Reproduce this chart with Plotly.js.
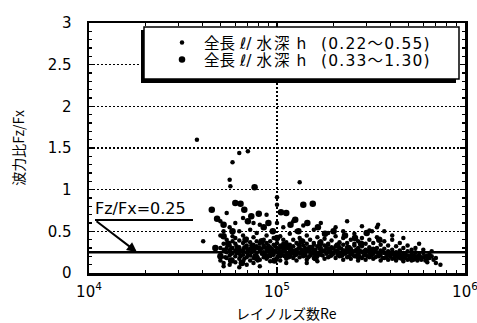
<!DOCTYPE html>
<html>
<head>
<meta charset="utf-8">
<script src="https://cdn.plot.ly/plotly-3.0.1.min.js"></script>
<style>html,body{margin:0;padding:0;background:#fff;}#chart{width:477px;height:323px;}</style>
</head>
<body>
<div id="chart"></div>
<script>
// Series 1: 全長ℓ/水深h (0.22～0.55) — small dots
const reSmall = [
 50000,50000,50000,50000,50000,
 52000,52000,52000,52000,52000,
 54000,54000,54000,54000,54000,
 56000,56000,56000,56000,56000,
 58000,58000,58000,58000,58000,
 60000,60000,60000,60000,60000,60000,
 63000,63000,63000,63000,63000,63000,
 66000,66000,66000,66000,66000,66000,
 69000,69000,69000,69000,69000,69000,
 72000,72000,72000,72000,72000,
 75000,75000,75000,75000,75000,75000,
 78000,78000,78000,78000,78000,
 81000,81000,81000,81000,81000,81000,
 85000,85000,85000,85000,85000,
 88000,88000,88000,88000,88000,88000,
 92000,92000,92000,92000,92000,
 96000,96000,96000,96000,96000,
 100000,100000,100000,100000,100000,100000,
 104000,104000,104000,104000,104000,
 108000,108000,108000,108000,108000,
 112000,112000,112000,112000,112000,
 117000,117000,117000,117000,117000,
 122000,122000,122000,122000,122000,
 127000,127000,127000,127000,127000,
 132000,132000,132000,132000,132000,
 138000,138000,138000,138000,138000,
 144000,144000,144000,144000,144000,
 150000,150000,150000,150000,150000,
 157000,157000,157000,157000,157000,
 164000,164000,164000,164000,164000,
 171000,171000,171000,171000,171000,
 179000,179000,179000,179000,
 187000,187000,187000,187000,187000,
 195000,195000,195000,195000,
 205000,205000,205000,205000,205000,
 215000,215000,215000,215000,
 225000,225000,225000,225000,225000,
 236000,236000,236000,236000,236000,
 247000,247000,247000,247000,
 258000,258000,258000,258000,258000,
 270000,270000,270000,270000,
 283000,283000,283000,283000,283000,
 296000,296000,296000,296000,
 310000,310000,310000,310000,310000,
 325000,325000,325000,325000,
 340000,340000,340000,340000,340000,
 356000,356000,356000,356000,
 372000,372000,372000,372000,372000,
 390000,390000,390000,390000,
 410000,410000,410000,410000,410000,
 430000,430000,430000,430000,
 450000,450000,450000,450000,
 470000,470000,470000,470000,470000,
 495000,495000,495000,495000,
 520000,520000,520000,520000,
 545000,545000,545000,545000,
 570000,570000,570000,
 600000,600000,600000,
 630000,630000,630000,
 665000,665000,
 700000,700000,
 740000,
 37500,63000,70000,58000,56000,56500,100000,132000,40500,
 53000,53000,57000,57000,61000,61000,64000,64000,67000,67000,
 70000,70000,73000,73000,76000,76000,79000,79000,83000,83000,
 86000,86000,90000,90000,94000,94000,98000,98000,102000,102000,
 106000,106000,110000,110000,114000,114000,119000,119000,124000,124000,
 130000,130000,135000,135000,141000,141000,147000,147000,154000,154000,
 160000,160000,168000,168000,175000,175000,183000,183000,191000,191000,
 200000,200000,210000,210000,220000,220000,230000,230000,241000,241000,
 252000,252000,264000,264000,276000,276000,290000,290000,303000,303000,
 318000,318000,333000,333000,348000,348000,364000,364000,381000,381000,
 400000,400000,420000,420000,440000,440000,460000,460000,482000,482000,
 507000,507000,532000,532000,558000,558000,585000,585000,615000,615000,
 648000,648000,680000,320000,345000
];
const fzSmall = [
 0.45,0.30,0.22,0.15,0.62,
 0.35,0.28,0.12,0.50,0.08,
 0.40,0.25,0.18,0.30,0.72,
 0.33,0.21,0.10,0.27,0.55,
 0.38,0.30,0.16,0.24,0.44,
 0.42,0.27,0.20,0.35,0.13,0.60,
 0.31,0.23,0.17,0.39,0.50,0.07,
 0.36,0.28,0.22,0.14,0.45,0.66,
 0.30,0.25,0.19,0.41,0.33,0.10,
 0.37,0.29,0.21,0.15,0.52,
 0.34,0.26,0.18,0.43,0.60,0.12,
 0.32,0.24,0.20,0.38,0.48,
 0.35,0.27,0.16,0.30,0.58,0.08,
 0.33,0.25,0.19,0.40,0.22,
 0.36,0.28,0.17,0.45,0.30,0.70,
 0.31,0.24,0.20,0.38,0.14,
 0.34,0.27,0.22,0.42,0.50,
 0.30,0.25,0.18,0.36,0.60,0.82,
 0.33,0.26,0.20,0.44,0.15,
 0.35,0.28,0.21,0.40,0.55,
 0.31,0.24,0.17,0.37,0.12,
 0.34,0.27,0.20,0.47,0.30,
 0.32,0.25,0.18,0.40,0.62,
 0.36,0.28,0.22,0.15,0.50,
 0.30,0.24,0.19,0.42,0.33,
 0.33,0.26,0.20,0.38,0.57,
 0.35,0.27,0.16,0.45,0.12,
 0.31,0.25,0.21,0.40,0.30,
 0.34,0.28,0.18,0.36,0.52,
 0.32,0.24,0.20,0.43,0.14,
 0.30,0.26,0.22,0.38,0.60,
 0.33,0.27,0.17,0.41,
 0.35,0.25,0.19,0.34,0.48,
 0.31,0.24,0.21,0.39,
 0.32,0.26,0.18,0.44,0.55,
 0.30,0.24,0.20,0.37,
 0.34,0.27,0.16,0.42,0.50,
 0.31,0.25,0.19,0.36,0.62,
 0.29,0.23,0.17,0.40,
 0.33,0.26,0.20,0.47,0.35,
 0.30,0.24,0.15,0.38,
 0.32,0.25,0.18,0.42,0.56,
 0.28,0.22,0.16,0.35,
 0.31,0.24,0.19,0.40,0.51,
 0.29,0.23,0.17,0.36,
 0.30,0.25,0.20,0.43,0.55,
 0.27,0.22,0.15,0.34,
 0.29,0.24,0.18,0.38,0.50,
 0.26,0.21,0.16,0.33,
 0.28,0.23,0.17,0.40,0.45,
 0.25,0.20,0.15,0.32,
 0.27,0.22,0.18,0.36,
 0.24,0.19,0.14,0.30,0.42,
 0.26,0.21,0.16,0.33,
 0.23,0.19,0.15,0.28,
 0.25,0.20,0.17,0.30,
 0.22,0.18,0.35,
 0.24,0.19,0.28,
 0.21,0.17,0.13,
 0.20,0.26,
 0.12,0.18,
 0.10,
 1.60,1.44,1.46,1.33,1.12,1.04,0.91,1.09,0.38,
 0.26,0.19,0.29,0.23,0.32,0.24,0.26,0.20,0.31,0.17,
 0.27,0.22,0.33,0.25,0.28,0.21,0.30,0.15,0.29,0.23,
 0.31,0.21,0.27,0.33,0.29,0.22,0.26,0.32,0.29,0.22,
 0.31,0.24,0.27,0.20,0.30,0.33,0.29,0.23,0.27,0.21,
 0.29,0.34,0.28,0.23,0.30,0.24,0.28,0.19,0.30,0.23,
 0.28,0.22,0.29,0.24,0.27,0.21,0.30,0.23,0.28,0.20,
 0.29,0.23,0.27,0.22,0.29,0.21,0.27,0.23,0.28,0.20,
 0.26,0.22,0.28,0.21,0.27,0.19,0.26,0.21,0.27,0.20,
 0.25,0.21,0.27,0.19,0.24,0.20,0.26,0.18,0.23,0.19,
 0.24,0.20,0.22,0.18,0.23,0.19,0.21,0.17,0.22,0.18,
 0.20,0.17,0.21,0.16,0.20,0.15,0.19,0.16,0.20,0.15,
 0.18,0.22,0.16,0.50,0.58
];

// Series 2: 全長ℓ/水深h (0.33～1.30) — large dots
const reLarge = [
 45000,48000,52000,60000,64000,67000,70000,76000,73000,80000,
 85000,90000,95000,105000,112000,118000,125000,138000,155000,130000,
 145000,165000,180000,200000,230000,260000,300000,350000,
 55000,62000,68000,75000,83000,92000,100000,110000,120000,135000,
 150000,170000,190000,210000,240000,280000,320000,
 50000,57000,65000,78000,88000,97000,115000,140000,160000,220000,270000,
 52000,58000,47000
];
const fzLarge = [
 0.76,0.65,0.58,0.84,0.83,0.76,0.62,1.03,0.68,0.71,
 0.55,0.60,0.50,0.73,0.72,0.58,0.64,0.82,0.83,0.50,
 0.60,0.55,0.47,0.50,0.45,0.42,0.48,0.40,
 0.35,0.28,0.40,0.30,0.38,0.27,0.42,0.33,0.25,0.38,
 0.30,0.36,0.28,0.33,0.30,0.35,0.27,
 0.20,0.15,0.12,0.18,0.20,0.15,0.20,0.22,0.18,0.22,0.20,
 0.44,0.50,0.30
];

const seriesLabel = '全長 ℓ/ 水深 h';
const seriesRanges = ['(0.22～0.55)', '(0.33～1.30)'];
const xTickVals = [10000, 100000, 1000000];
const xTickText = ['10<sup>4</sup>', '10<sup>5</sup>', '10<sup>6</sup>'];
const yTickVals = [0, 0.5, 1, 1.5, 2, 2.5, 3];
const yTickText = ['0', '0.5', '1', '1.5', '2', '2.5', '3'];
const refValue = 0.25;
const refLabel = 'Fz/Fx=0.25';

const W = 477, H = 323, L = 89, R = 12, T = 23, B = 50;
const pw = W - L - R, ph = H - T - B;
const px = v => (v - L) / pw;            // pixel x -> paper
const pyp = v => (H - B - v) / ph;       // pixel y -> paper
const py = v => 3 * (H - B - v) / ph;    // pixel y -> data y

const fontNum = 'DejaVu Sans, Liberation Sans, sans-serif';
const fontJp = 'Noto Sans CJK JP, sans-serif';
const fontLeg = 'DejaVu Sans, Noto Sans CJK JP, sans-serif';

const legName = r => seriesLabel.replace('水深', '<span style="letter-spacing:2px">水深</span>') +
  '   <span style="letter-spacing:1.2px">' + r + '</span>';

const traces = [
 {x: reSmall, y: fzSmall, type: 'scatter', mode: 'markers', name: legName(seriesRanges[0]), legend: 'legend',
  marker: {color: '#000', size: 4.5}},
 {x: reLarge, y: fzLarge, type: 'scatter', mode: 'markers', name: legName(seriesRanges[1]), legend: 'legend2',
  marker: {color: '#000', size: 6.5}}
];

const legBase = {xanchor: 'left', yanchor: 'middle', bgcolor: 'rgba(0,0,0,0)', borderwidth: 0,
  itemwidth: 34, font: {family: fontLeg, size: 15.5, color: '#000'}, itemsizing: 'trace'};

const layout = {
 width: W, height: H,
 margin: {l: L, r: R, t: T, b: B, pad: 0},
 paper_bgcolor: '#fff', plot_bgcolor: '#fff',
 showlegend: true,
 legend: Object.assign({}, legBase, {x: px(160), y: pyp(43)}),
 legend2: Object.assign({}, legBase, {x: px(160), y: pyp(60)}),
 xaxis: {type: 'log', range: [4, 6], tickvals: xTickVals, ticktext: xTickText,
  showgrid: true, gridcolor: '#000', griddash: '2px,2px', gridwidth: 1.3,
  showline: true, linecolor: '#000', linewidth: 2.5, mirror: 'ticks',
  ticks: 'inside', ticklen: 5, tickwidth: 1.5, tickcolor: '#000',
  minor: {ticks: 'inside', ticklen: 3, tickwidth: 1.2, tickcolor: '#000', dtick: 'D1', showgrid: false},
  tickfont: {family: fontNum, size: 15, color: '#000'}, ticklabelstandoff: 3,
  ticklabeloverflow: 'allow', zeroline: false},
 yaxis: {range: [0, 3], tickvals: yTickVals, ticktext: yTickText,
  showgrid: true, gridcolor: '#000', griddash: '2px,2px', gridwidth: 1.3,
  showline: true, linecolor: '#000', linewidth: 2.5, mirror: 'ticks',
  ticks: 'inside', ticklen: 5, tickwidth: 1.5, tickcolor: '#000',
  minor: {ticks: 'inside', ticklen: 3, tickwidth: 1.2, tickcolor: '#000', dtick: 0.1, showgrid: false},
  tickfont: {family: fontNum, size: 15, color: '#000'}, ticklabelstandoff: 12,
  ticklabeloverflow: 'allow', zeroline: false,
  title: {text: '波力比Fz/Fx', font: {family: fontJp, size: 14, color: '#000'}, standoff: 20}},
 shapes: [
  {type: 'line', xref: 'paper', yref: 'y', x0: 0, x1: 1, y0: refValue, y1: refValue,
   line: {color: '#000', width: 2.5}, layer: 'above'},
  {type: 'line', xref: 'paper', yref: 'y', x0: px(95), x1: px(193), y0: py(220), y1: py(220),
   line: {color: '#000', width: 2}, layer: 'above'},
  {type: 'rect', xref: 'paper', yref: 'y', x0: px(141), x1: px(456), y0: py(83), y1: py(30),
   fillcolor: '#000', line: {width: 0}, layer: 'above'},
  {type: 'rect', xref: 'paper', yref: 'y', x0: px(144), x1: px(459), y0: py(79), y1: py(27),
   fillcolor: '#fff', line: {color: '#000', width: 1.5}, layer: 'above'}
 ],
 annotations: [
  {xref: 'paper', yref: 'y', x: px(93), y: py(208), xanchor: 'left', yanchor: 'middle',
   text: refLabel, showarrow: false, font: {family: fontNum, size: 16, color: '#000'}},
  {xref: 'paper', yref: 'y', x: px(137), y: refValue, ax: 95 - 137, ay: 220 - 252,
   text: '', showarrow: true, arrowhead: 2, arrowsize: 1, arrowwidth: 2, arrowcolor: '#000', standoff: 0},
  {xref: 'paper', yref: 'paper', x: px(286), y: -(313 - (H - B)) / ph, xanchor: 'center', yanchor: 'middle',
   text: 'レイノルズ数Re', showarrow: false, font: {family: fontJp, size: 14, color: '#000'}}
 ]
};

Plotly.newPlot('chart', traces, layout, {staticPlot: true, displayModeBar: false});
</script>
</body>
</html>
